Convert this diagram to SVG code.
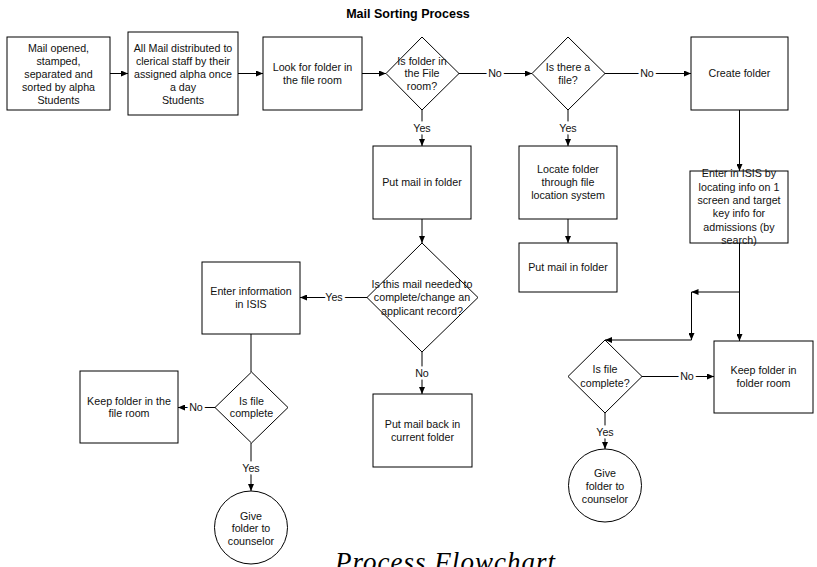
<svg xmlns="http://www.w3.org/2000/svg" width="817" height="567" viewBox="0 0 817 567">
<defs>
<marker id="arr" markerUnits="userSpaceOnUse" markerWidth="7" markerHeight="6" refX="7" refY="3" orient="auto">
<path d="M0,0 L7,3 L0,6 z" fill="#000"/>
</marker>
<style>
.shape{fill:#fff;stroke:#000;stroke-width:1}
.t{font-family:"Liberation Sans",Arial,sans-serif;font-size:10.7px;fill:#111;text-anchor:middle}
.lbl{font-family:"Liberation Sans",Arial,sans-serif;font-size:10.7px;fill:#111;text-anchor:middle;paint-order:stroke;stroke:#fff;stroke-width:5px}
.ln{fill:none;stroke:#000;stroke-width:1}
.a{marker-end:url(#arr)}
</style>
</defs>
<rect width="817" height="567" fill="#fff"/>
<text x="408" y="18" font-family="Liberation Sans, Arial, sans-serif" font-size="12.5" font-weight="bold" text-anchor="middle" fill="#000">Mail Sorting Process</text>

<g id="connectors">
<line class="ln a" x1="110" y1="73.5" x2="128" y2="73.5"/>
<line class="ln a" x1="238" y1="73.5" x2="263" y2="73.5"/>
<line class="ln a" x1="362" y1="73.5" x2="386" y2="73.5"/>
<line class="ln a" x1="459" y1="73.5" x2="532" y2="73.5"/>
<line class="ln a" x1="605" y1="73.5" x2="691" y2="73.5"/>
<line class="ln a" x1="422" y1="110" x2="422" y2="146"/>
<line class="ln a" x1="568" y1="110" x2="568" y2="146"/>
<line class="ln a" x1="568" y1="219" x2="568" y2="243"/>
<line class="ln a" x1="422" y1="219" x2="422" y2="243"/>
<line class="ln a" x1="367" y1="297.5" x2="300" y2="297.5"/>
<line class="ln a" x1="422" y1="352" x2="422" y2="394"/>
<line class="ln" x1="251" y1="334" x2="251" y2="372"/>
<line class="ln a" x1="215" y1="407.5" x2="178" y2="407.5"/>
<line class="ln a" x1="251" y1="443" x2="251" y2="491"/>
<line class="ln a" x1="739.5" y1="110" x2="739.5" y2="171"/>
<line class="ln a" x1="739.5" y1="243" x2="739.5" y2="341"/>
<line class="ln a" x1="739.5" y1="292" x2="691.5" y2="292"/>
<line class="ln a" x1="691.5" y1="292" x2="691.5" y2="340"/>
<line class="ln a" x1="691.5" y1="340" x2="605" y2="340"/>
<line class="ln a" x1="642" y1="376.5" x2="714" y2="376.5"/>
<line class="ln a" x1="605" y1="413" x2="605" y2="449"/>
<text class="lbl" x="495" y="77.3">No</text>
<text class="lbl" x="647" y="77.3">No</text>
<text class="lbl" x="422" y="131.8">Yes</text>
<text class="lbl" x="568" y="131.8">Yes</text>
<text class="lbl" x="334" y="301.3">Yes</text>
<text class="lbl" x="422" y="376.8">No</text>
<text class="lbl" x="196" y="411.3">No</text>
<text class="lbl" x="251" y="471.8">Yes</text>
<text class="lbl" x="687" y="380.3">No</text>
<text class="lbl" x="605" y="435.8">Yes</text>
</g>

<g id="n1">
<rect class="shape" x="7" y="37" width="103" height="73"/>
<text class="t" x="58.5" y="51.8">Mail opened,</text>
<text class="t" x="58.5" y="64.8">stamped,</text>
<text class="t" x="58.5" y="77.8">separated and</text>
<text class="t" x="58.5" y="90.8">sorted by alpha</text>
<text class="t" x="58.5" y="103.8">Students</text>
</g>
<g id="n2">
<rect class="shape" x="128" y="32" width="110" height="83"/>
<text class="t" x="183" y="51.8">All Mail distributed to</text>
<text class="t" x="183" y="64.8">clerical staff by their</text>
<text class="t" x="183" y="77.8">assigned alpha once</text>
<text class="t" x="183" y="90.8">a day</text>
<text class="t" x="183" y="103.8">Students</text>
</g>
<g id="n3">
<rect class="shape" x="263" y="37" width="99" height="73"/>
<text class="t" x="312.5" y="70.8">Look for folder in</text>
<text class="t" x="312.5" y="83.8">the file room</text>
</g>
<g id="d1">
<polygon class="shape" points="422,37 459,73.5 422,110 386,73.5"/>
<text class="t" x="422" y="64.8">Is folder in</text>
<text class="t" x="422" y="77.3">the File</text>
<text class="t" x="422" y="89.8">room?</text>
</g>
<g id="d2">
<polygon class="shape" points="568,37 605,73.5 568,110 532,73.5"/>
<text class="t" x="568" y="70.8">Is there a</text>
<text class="t" x="568" y="83.8">file?</text>
</g>
<g id="n4">
<rect class="shape" x="691" y="37" width="97" height="73"/>
<text class="t" x="739.5" y="77.3">Create folder</text>
</g>
<g id="p1">
<rect class="shape" x="373" y="146" width="98" height="73"/>
<text class="t" x="422" y="186.3">Put mail in folder</text>
</g>
<g id="locate">
<rect class="shape" x="519" y="146" width="98" height="73"/>
<text class="t" x="568" y="173.3">Locate folder</text>
<text class="t" x="568" y="186.3">through file</text>
<text class="t" x="568" y="199.3">location system</text>
</g>
<g id="p2">
<rect class="shape" x="519" y="243" width="98" height="49"/>
<text class="t" x="568" y="271.3">Put mail in folder</text>
</g>
<g id="enterisis">
<rect class="shape" x="690" y="171" width="98" height="72"/>
<text class="t" x="739" y="177.3">Enter in ISIS by</text>
<text class="t" x="739" y="190.6">locating info on 1</text>
<text class="t" x="739" y="203.9">screen and target</text>
<text class="t" x="739" y="217.2">key info for</text>
<text class="t" x="739" y="230.5">admissions (by</text>
<text class="t" x="739" y="243.8">search)</text>
</g>
<g id="d4">
<polygon class="shape" points="422,243 478,297.5 422,352 367,297.5"/>
<text class="t" x="422" y="287.8">Is this mail needed to</text>
<text class="t" x="422" y="301.3">complete/change an</text>
<text class="t" x="422" y="314.8">applicant record?</text>
</g>
<g id="enterinfo">
<rect class="shape" x="202" y="262" width="98" height="72"/>
<text class="t" x="251" y="295.3">Enter information</text>
<text class="t" x="251" y="308.3">in ISIS</text>
</g>
<g id="d5">
<polygon class="shape" points="251.5,372 288,407.5 251.5,443 215,407.5"/>
<text class="t" x="251.5" y="404.8">Is file</text>
<text class="t" x="251.5" y="417.3">complete</text>
</g>
<g id="keep1">
<rect class="shape" x="80" y="371" width="98" height="72"/>
<text class="t" x="129" y="404.8">Keep folder in the</text>
<text class="t" x="129" y="417.3">file room</text>
</g>
<g id="c1">
<circle class="shape" cx="251" cy="527.5" r="36.5"/>
<text class="t" x="251" y="519.8">Give</text>
<text class="t" x="251" y="532.3">folder to</text>
<text class="t" x="251" y="544.8">counselor</text>
</g>
<g id="putback">
<rect class="shape" x="373" y="394" width="99" height="73"/>
<text class="t" x="422.5" y="427.8">Put mail back in</text>
<text class="t" x="422.5" y="440.8">current folder</text>
</g>
<g id="d3">
<polygon class="shape" points="605,340 642,376.5 605,413 568,376.5"/>
<text class="t" x="605" y="372.8">Is file</text>
<text class="t" x="605" y="386.8">complete?</text>
</g>
<g id="keep2">
<rect class="shape" x="714" y="341" width="99" height="72"/>
<text class="t" x="763.5" y="373.8">Keep folder in</text>
<text class="t" x="763.5" y="386.8">folder room</text>
</g>
<g id="c2">
<circle class="shape" cx="605" cy="485.5" r="36.5"/>
<text class="t" x="605" y="476.8">Give</text>
<text class="t" x="605" y="489.8">folder to</text>
<text class="t" x="605" y="502.8">counselor</text>
</g>

<text x="335" y="571" font-family="Liberation Serif, 'Times New Roman', serif" font-style="italic" font-size="27" textLength="220" fill="#000">Process Flowchart</text>
</svg>
